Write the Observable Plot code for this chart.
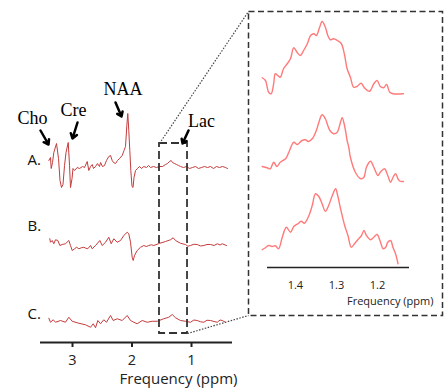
<!DOCTYPE html>
<html><head><meta charset="utf-8">
<script src="https://cdn.jsdelivr.net/npm/d3@7"></script>
<script src="https://cdn.jsdelivr.net/npm/@observablehq/plot@0.6"></script>
<style>
body{margin:0;background:#fff;}
#wrap{position:relative;width:448px;height:392px;overflow:hidden;background:#fff;}
#wrap svg{position:absolute;}
</style></head><body><div id="wrap"></div>
<script>
// ---- Left panel: full spectra (ppm, intensity above own baseline) ----
const spectrumA = [[3.398,2.8],[3.370,4],[3.358,-0.4],[3.336,2],[3.314,6],[3.269,9.6],[3.235,3.6],[3.210,-5.2],[3.185,-8],[3.160,-6.8],[3.134,0.8],[3.109,6],[3.072,10],[3.050,0.8],[3.034,-8],[3.008,-4.4],[2.992,-0.4],[2.966,-1.2],[2.921,0],[2.882,-0.4],[2.832,0.4],[2.798,0],[2.753,2.4],[2.726,-1.2],[2.697,0.4],[2.669,1.2],[2.647,-0.4],[2.613,0.4],[2.580,1.6],[2.546,0.4],[2.529,2],[2.496,0.4],[2.462,0.8],[2.429,2.8],[2.390,4.4],[2.361,4.8],[2.333,2.8],[2.311,2],[2.277,1.6],[2.244,2.8],[2.210,3.6],[2.165,4.8],[2.134,6.8],[2.109,8.4],[2.087,16.8],[2.071,21.6],[2.054,14.8],[2.037,6.8],[2.020,-1.2],[2.000,-7.6],[1.983,-8],[1.966,-4],[1.941,-1.2],[1.908,-0.4],[1.874,0.4],[1.840,-0.4],[1.802,0.4],[1.756,0],[1.723,0.8],[1.689,0],[1.639,0.4],[1.588,0],[1.538,0.4],[1.487,0.4],[1.437,1.2],[1.403,1.6],[1.370,2.4],[1.341,2.8],[1.319,2],[1.286,1.6],[1.252,1.2],[1.218,0.8],[1.185,0.4],[1.134,0],[1.084,0.4],[1.034,-0.4],[0.983,0],[0.933,0.4],[0.882,-0.4],[0.832,0],[0.782,0.4],[0.731,0],[0.681,0.4],[0.630,-0.4],[0.580,0.4],[0.529,0],[0.479,0.4],[0.429,0],[0.395,-0.4]];
const spectrumB = [[3.382,2.7],[3.370,1.3],[3.341,2],[3.314,0.7],[3.286,2.3],[3.247,2],[3.213,0],[3.173,0.4],[3.118,0.7],[3.062,2],[3.034,0],[3.005,-2],[2.966,-1.3],[2.930,-0.7],[2.894,-1.3],[2.850,-0.9],[2.810,-0.7],[2.775,-1.1],[2.743,-1.3],[2.697,0],[2.669,-1.3],[2.613,0],[2.541,2],[2.501,0],[2.445,1.3],[2.390,3.3],[2.350,0.7],[2.306,2.7],[2.249,1.3],[2.193,2],[2.138,4],[2.081,5.3],[2.054,4.7],[2.025,1.3],[1.997,-4.7],[1.980,-6],[1.958,-4],[1.913,-2],[1.857,-0.7],[1.802,0],[1.760,-0.4],[1.718,0],[1.675,0.3],[1.634,0],[1.533,0.9],[1.437,1.6],[1.353,2.3],[1.308,3.1],[1.269,2],[1.185,0.9],[1.101,0.4],[1.060,-0.3],[1.017,0],[0.960,0.5],[0.904,0.4],[0.850,-0.2],[0.793,0],[0.740,0.4],[0.681,0.4],[0.620,0],[0.568,0.7],[0.520,0.2],[0.484,0.7],[0.412,0]];
const spectrumC = [[3.398,0.9],[3.370,-0.7],[3.324,0.3],[3.286,-0.7],[3.202,0],[3.118,-0.7],[3.062,1.3],[3.005,-0.3],[2.894,-1.1],[2.782,-1.7],[2.697,-2.7],[2.652,-1.3],[2.613,-2.9],[2.575,0],[2.529,-1.3],[2.474,0.3],[2.429,-0.7],[2.361,2],[2.316,0],[2.249,0.7],[2.165,0],[2.081,2],[2.025,0],[1.970,-0.7],[1.913,-1.3],[1.829,0],[1.745,-0.7],[1.661,-0.3],[1.576,-0.3],[1.466,0.7],[1.382,1.3],[1.324,2.4],[1.269,1.1],[1.185,0],[1.101,-0.3],[1.017,-0.7],[0.960,0.2],[0.904,0],[0.850,-0.5],[0.793,-0.7],[0.740,0.1],[0.681,0],[0.620,-0.4],[0.568,-0.7],[0.520,0.2],[0.484,0],[0.429,-0.7]];
const spectrumNames = ["A.", "B.", "C."];
const spectrumLevels = [70, 38.8, 8.8];
const spectrumLabelLevels = [72.8, 46.4, 11.4];
const ppmTicks = [3, 2, 1];

// peak annotations
const peakNames = ["Cho", "Cre", "NAA", "Lac"];
const peakLabelPpm = [3.672, 2.983, 2.151, 0.832];
const peakLabelLevel = [89.6, 92.8, 101.2, 88.4];
const arrowStart = [[3.538, 84.8], [2.916, 88], [2.277, 96], [1.050, 84.8]];
const arrowEnd = [[3.403, 79.2], [3.0, 81.6], [2.176, 90.4], [1.151, 79.6]];

// zoomed region (lactate) box and connectors
const zoomBox = {ppmFrom: 1.538, ppmTo: 1.067, low: 3.6, high: 79.6};
const connectorStart = [[1.538, 79.6], [1.067, 3.6]];
const connectorEnd = [[0.042, 132.4], [0.042, 10.8]];

// ---- Right panel: zoom 1.47–1.12 ppm ----
const zoomTop = [[1.481,5.9],[1.473,4.8],[1.465,0.1],[1.459,-0.5],[1.453,3.5],[1.449,7.5],[1.443,6.8],[1.437,6.1],[1.429,9.5],[1.420,11.5],[1.412,13.5],[1.404,17.9],[1.396,16.1],[1.388,14.8],[1.380,16.8],[1.371,19.5],[1.363,22.8],[1.355,23.5],[1.349,22.8],[1.341,26.1],[1.335,28.4],[1.327,26.1],[1.321,22.8],[1.315,21.1],[1.307,21.5],[1.298,20.8],[1.288,19.5],[1.280,14.8],[1.274,9.5],[1.266,6.1],[1.258,2.1],[1.250,2.4],[1.240,3.7],[1.232,1.9],[1.219,0.5],[1.209,3.5],[1.201,4.8],[1.193,2.4],[1.185,1.9],[1.178,3.2],[1.170,0.1],[1.162,-0.5],[1.137,-0.5]];
const zoomMiddle = [[1.481,5.4],[1.469,4.9],[1.461,4.5],[1.453,7.1],[1.445,5.4],[1.437,7.1],[1.424,8.5],[1.416,11.1],[1.404,15.1],[1.396,14.2],[1.384,15.8],[1.376,16.1],[1.368,15.4],[1.359,16.5],[1.349,19.8],[1.343,23],[1.335,26.1],[1.327,24.5],[1.322,22.2],[1.316,19.8],[1.307,18.5],[1.298,19.1],[1.293,21.4],[1.286,24.9],[1.282,23],[1.278,19.8],[1.274,15.8],[1.270,13.1],[1.266,9.1],[1.254,3.1],[1.241,0.5],[1.233,1.1],[1.227,5.1],[1.217,7.5],[1.209,5.1],[1.199,1.8],[1.193,3.1],[1.183,4.5],[1.175,1.8],[1.168,-0.9],[1.162,1.1],[1.156,2.5],[1.150,0.5],[1.145,-0.5],[1.137,-0.6]];
const zoomBottom = [[1.481,2.1],[1.473,2.9],[1.465,3.8],[1.457,3.4],[1.449,3.7],[1.441,2.5],[1.432,7.1],[1.422,11.1],[1.412,9.1],[1.404,11.4],[1.394,12.5],[1.386,13.5],[1.378,12.7],[1.367,15.8],[1.359,19.8],[1.351,24.5],[1.343,23.4],[1.335,20.5],[1.327,17.5],[1.319,19.8],[1.310,23.8],[1.302,26.5],[1.297,23.8],[1.290,18.5],[1.280,11.8],[1.272,7.8],[1.264,3.1],[1.256,4.5],[1.248,6.1],[1.239,7.8],[1.233,9.8],[1.227,7.8],[1.217,6.1],[1.209,7.1],[1.201,8.2],[1.194,5.8],[1.186,2.5],[1.180,3.1],[1.175,5.1],[1.168,5.8],[1.162,2.9],[1.156,0.5],[1.150,-3.5]];
const zoomLevels = [70, 35, 5];
const zoomTicks = [1.4, 1.3, 1.2];
const axisTitle = "Frequency (ppm)";

// ---- build tables ----
const leftRows = [spectrumA, spectrumB, spectrumC].flatMap((s, i) =>
  s.map(([ppm, v]) => ({series: spectrumNames[i], ppm, y: v + spectrumLevels[i]})));
const rightRows = [zoomTop, zoomMiddle, zoomBottom].flatMap((s, i) =>
  s.map(([ppm, v]) => ({series: i, ppm, y: v + zoomLevels[i]})));
const arrows = peakNames.map((n, i) => ({x1: arrowStart[i][0], y1: arrowStart[i][1], x2: arrowEnd[i][0], y2: arrowEnd[i][1]}));
const connectors = connectorStart.map((s, i) => ({x1: s[0], y1: s[1], x2: connectorEnd[i][0], y2: connectorEnd[i][1]}));

const sans = "'Open Sans', 'Liberation Sans', sans-serif";

const left = Plot.plot({
  width: 448, height: 392,
  marginLeft: 40, marginRight: 216, marginTop: 0, marginBottom: 50,
  x: {domain: [3.538, 0.311]},
  y: {domain: [0, 136.8], axis: null},
  style: {background: "transparent", fontFamily: sans, overflow: "visible"},
  marks: [
    Plot.ruleY([0], {stroke: "#222", strokeWidth: 2}),
    Plot.axisX({ticks: ppmTicks, tickSize: 5, tickPadding: 7, fontSize: 14.5, strokeWidth: 2, label: null, tickFormat: d => String(d), color: "#222"}),
    Plot.text([axisTitle], {frameAnchor: "bottom-right", dx: 5, dy: 41, textAnchor: "end", fontSize: 15, fill: "#222"}),
    Plot.line(leftRows, {x: "ppm", y: "y", z: "series", stroke: "#c43c3c", strokeWidth: 1}),
    Plot.text(spectrumNames, {x: () => 3.756, y: (d, i) => spectrumLabelLevels[i], text: d => d, textAnchor: "start", fontSize: 15, fill: "#111"}),
    Plot.rect([zoomBox], {x1: "ppmFrom", x2: "ppmTo", y1: "low", y2: "high", fill: "none", stroke: "#333", strokeWidth: 1.8, strokeDasharray: "8,4"}),
    Plot.link(connectors, {x1: "x1", y1: "y1", x2: "x2", y2: "y2", stroke: "#444", strokeWidth: 1.2, strokeDasharray: "1.5,1.5"}),
    Plot.arrow(arrows, {x1: "x1", y1: "y1", x2: "x2", y2: "y2", stroke: "#000", strokeWidth: 2.5, headLength: 8, headAngle: 70}),
    Plot.text(peakNames, {x: (d, i) => peakLabelPpm[i], y: (d, i) => peakLabelLevel[i], text: d => d, fontSize: 18, fontFamily: "'Liberation Serif', serif", fill: "#000"})
  ]
});
left.style.left = "0px"; left.style.top = "0px";

const right = Plot.plot({
  width: 198, height: 308,
  marginLeft: 21, marginRight: 35, marginTop: 0, marginBottom: 50,
  x: {domain: [1.468, 1.122]},
  y: {domain: [0, 103.2], axis: null},
  style: {background: "transparent", fontFamily: sans, overflow: "visible"},
  marks: [
    Plot.frame({stroke: "#333", strokeWidth: 1.5, strokeDasharray: "6,3.5", insetLeft: -19, insetRight: -33, insetTop: 2, insetBottom: -48}),
    Plot.ruleY([0], {stroke: "#222", strokeWidth: 1.5}),
    Plot.axisX({ticks: zoomTicks, tickSize: 0, tickPadding: 14, fontSize: 11, label: null, tickFormat: d => d.toFixed(1), color: "#222"}),
    Plot.text([axisTitle], {frameAnchor: "bottom-right", dx: 24, dy: 37, textAnchor: "end", fontSize: 11, fill: "#222"}),
    Plot.line(rightRows, {x: "ppm", y: "y", z: "series", stroke: "#ff7a7a", strokeWidth: 1.4, curve: "catmull-rom"})
  ]
});
right.style.left = "246px"; right.style.top = "9px";

const wrap = document.getElementById("wrap");
wrap.appendChild(left);
wrap.appendChild(right);
</script>
</body></html>
